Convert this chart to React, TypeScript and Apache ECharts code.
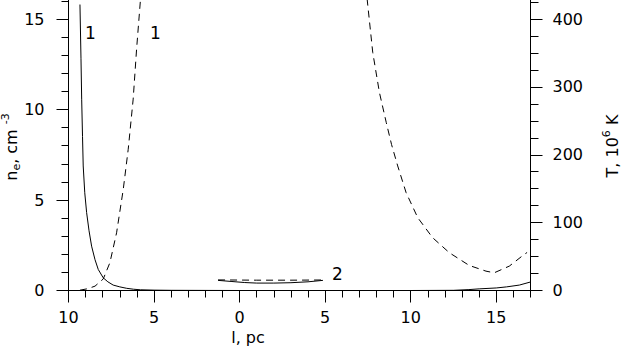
import React, { useEffect, useRef } from 'react';
import * as echarts from 'echarts';

const FONT = 'DejaVu Sans';

// x positions (pc); negative side labelled by absolute value
const xTickValues = [-10, -5, 0, 5, 10, 15];
const neTickValues = [0, 5, 10, 15];
const tTickValues = [0, 100, 200, 300, 400];

// Curve 1, electron density (solid, left axis)
const solid1L = [-9.33, -9.27, -9.23, -9.18, -9.14, -9.05, -8.94, -8.8, -8.65, -8.45, -8.26, -7.97, -7.7, -7.39, -7.0, -6.6, -6.2, -5.8, -5.0, -4.0, 0, 5, 10, 12.5, 13.4, 14.0, 15.0, 15.6, 16.35, 17];
const solid1N = [15.8, 12.8, 10.57, 8.5, 6.88, 5.4, 4.3, 3.3, 2.45, 1.7, 1.16, 0.7, 0.48, 0.3, 0.2, 0.12, 0.07, 0.04, 0.02, 0.01, 0, 0, 0, 0.01, 0.05, 0.09, 0.14, 0.2, 0.3, 0.47];

// Curve 1, temperature (dashed, right axis) - left branch
const dash1aL = [-9.33, -8.9, -8.45, -7.97, -7.58, -7.19, -6.8, -6.51, -6.22, -6.02, -5.79];
const dash1aT = [0.5, 2.5, 6.4, 17, 41, 85, 149, 208, 282, 356, 430];
// Curve 1, temperature - right branch
const dash1bL = [7.45, 7.78, 8.17, 8.57, 8.88, 9.24, 9.73, 10.41, 11.28, 12.26, 13.42, 14.4, 14.88, 15.76, 16.63, 16.8];
const dash1bT = [430, 350.8, 291.8, 247.5, 215, 183.5, 144.2, 107.3, 77.8, 55.6, 36.9, 28.5, 26.1, 35.9, 53.1, 56];

// Curve 2
const solid2L = [-1.26, -0.5, 0.3, 1.0, 2.0, 3.0, 4.0, 4.87];
const solid2N = [0.56, 0.5, 0.44, 0.41, 0.41, 0.43, 0.48, 0.56];
const dash2L = [-1.26, 1.0, 3.0, 4.87];
const dash2T = [15.6, 15.2, 15.2, 15.5];

const zip = (a: number[], b: number[]) => a.map((v, i) => [v, b[i]]);

export default function App() {
  const ref = useRef<HTMLDivElement>(null);
  useEffect(() => {
    const chart = echarts.init(ref.current!, null, { renderer: 'svg' });
    const black = '#000';
    const labelStyle = { color: black, fontFamily: FONT, fontSize: 16 };
    const solid = { color: black, width: 1, type: 'solid' as const };
    const dashed = { color: black, width: 1, type: [7, 5] };
    const lineSeries = (data: number[][], yAxisIndex: number, ls: any) => ({
      type: 'line',
      xAxisIndex: 0,
      yAxisIndex,
      data,
      showSymbol: false,
      symbol: 'none',
      lineStyle: ls,
      itemStyle: { color: black },
      clip: true,
      silent: true,
    });
    chart.setOption({
      animation: false,
      backgroundColor: '#fff',
      grid: {
        left: 68.5,
        right: 90.5,
        top: -71.5,
        bottom: 60.5,
        containLabel: false,
        outerBoundsMode: 'none',
      },
      xAxis: [
        {
          type: 'value',
          min: -10,
          max: 17,
          interval: 5,
          position: 'bottom',
          axisLine: { show: true, onZero: false, lineStyle: { color: black, width: 1 } },
          axisTick: { show: true, length: 12, customValues: xTickValues, lineStyle: { color: black } },
          axisLabel: {
            ...labelStyle,
            margin: 19,
            customValues: xTickValues,
            formatter: (v: number) => String(Math.abs(v)),
          },
          splitLine: { show: false },
        },
        {
          type: 'value',
          min: -10,
          max: 17,
          interval: 1,
          position: 'bottom',
          axisLine: { show: false, onZero: false },
          axisTick: { show: true, length: 7, lineStyle: { color: black } },
          axisLabel: { show: false },
          splitLine: { show: false },
        },
      ],
      yAxis: [
        {
          type: 'value',
          min: 0,
          max: 20,
          interval: 5,
          position: 'left',
          axisLine: { show: true, onZero: false, lineStyle: { color: black, width: 1 } },
          axisTick: { show: true, length: 12, lineStyle: { color: black } },
          minorTick: { show: true, splitNumber: 5, length: 7, lineStyle: { color: black } },
          axisLabel: { ...labelStyle, margin: 24, customValues: neTickValues },
          splitLine: { show: false },
        },
        {
          type: 'value',
          min: 0,
          max: 1600 / 3,
          interval: 100,
          position: 'right',
          axisLine: { show: true, onZero: false, lineStyle: { color: black, width: 1 } },
          axisTick: { show: true, length: 12, lineStyle: { color: black } },
          minorTick: { show: true, splitNumber: 4, length: 8, lineStyle: { color: black } },
          axisLabel: { ...labelStyle, margin: 22, customValues: tTickValues },
          splitLine: { show: false },
        },
      ],
      series: [
        lineSeries(zip(solid1L, solid1N), 0, solid),
        lineSeries(zip(dash1aL, dash1aT), 1, dashed),
        lineSeries(zip(dash1bL, dash1bT), 1, dashed),
        lineSeries(zip(solid2L, solid2N), 0, solid),
        lineSeries(zip(dash2L, dash2T), 1, dashed),
      ],
      graphic: [
        {
          type: 'text',
          x: 11,
          y: 147,
          rotation: Math.PI / 2,
          style: {
            text: '{a|n}{s|e}{a|, cm }{p|-3}',
            align: 'center',
            verticalAlign: 'middle',
            fill: black,
            rich: {
              a: { fontFamily: FONT, fontSize: 16, lineHeight: 22, fill: black },
              s: { fontFamily: FONT, fontSize: 11, lineHeight: 11, verticalAlign: 'bottom', fill: black },
              p: { fontFamily: FONT, fontSize: 11, lineHeight: 11, verticalAlign: 'top', fill: black },
            },
          },
        },
        {
          type: 'text',
          x: 612,
          y: 146,
          rotation: Math.PI / 2,
          style: {
            text: '{a|T, 10}{p|6}{a| K}',
            align: 'center',
            verticalAlign: 'middle',
            fill: black,
            rich: {
              a: { fontFamily: FONT, fontSize: 16, lineHeight: 22, fill: black },
              p: { fontFamily: FONT, fontSize: 11, lineHeight: 11, verticalAlign: 'top', fill: black },
            },
          },
        },
        {
          type: 'text',
          x: 248,
          y: 337,
          style: { text: 'l, pc', align: 'center', verticalAlign: 'middle', fill: black, fontFamily: FONT, fontSize: 16 },
        },
        {
          type: 'text',
          x: 90.5,
          y: 32.5,
          style: { text: '1', align: 'center', verticalAlign: 'middle', fill: black, fontFamily: FONT, fontSize: 17 },
        },
        {
          type: 'text',
          x: 155.5,
          y: 32.5,
          style: { text: '1', align: 'center', verticalAlign: 'middle', fill: black, fontFamily: FONT, fontSize: 17 },
        },
        {
          type: 'text',
          x: 337.5,
          y: 274,
          style: { text: '2', align: 'center', verticalAlign: 'middle', fill: black, fontFamily: FONT, fontSize: 17 },
        },
      ],
    });
    return () => chart.dispose();
  }, []);
  return (
    <div
      ref={ref}
      style={{ position: 'absolute', left: 0, top: 0, width: 621, height: 351, background: '#fff' }}
    />
  );
}
